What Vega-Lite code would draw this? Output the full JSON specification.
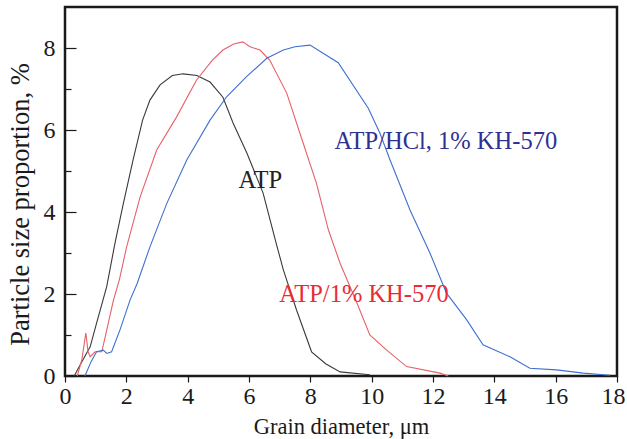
{
  "$schema": "https://vega.github.io/schema/vega-lite/v6.json",
  "autosize": "none",
  "width": 552,
  "height": 369,
  "padding": {"left": 65, "top": 7, "right": 10, "bottom": 63},
  "background": "white",
  "config": {
    "view": {"stroke": "#1a1a1a", "strokeWidth": 2.5},
    "font": "Liberation Serif"
  },
  "datasets": {
    "curves": [
      {"series": "ATP", "x": 0.3, "y": 0},
      {"series": "ATP", "x": 0.55, "y": 0.35},
      {"series": "ATP", "x": 0.82, "y": 0.71},
      {"series": "ATP", "x": 1.03, "y": 1.29},
      {"series": "ATP", "x": 1.36, "y": 2.18},
      {"series": "ATP", "x": 1.63, "y": 3.24},
      {"series": "ATP", "x": 1.9, "y": 4.2},
      {"series": "ATP", "x": 2.22, "y": 5.27},
      {"series": "ATP", "x": 2.53, "y": 6.24},
      {"series": "ATP", "x": 2.77, "y": 6.73},
      {"series": "ATP", "x": 3.1, "y": 7.1},
      {"series": "ATP", "x": 3.5, "y": 7.33},
      {"series": "ATP", "x": 3.85, "y": 7.37},
      {"series": "ATP", "x": 4.3, "y": 7.33},
      {"series": "ATP", "x": 4.73, "y": 7.17},
      {"series": "ATP", "x": 5.15, "y": 6.8},
      {"series": "ATP", "x": 5.48, "y": 6.17},
      {"series": "ATP", "x": 5.93, "y": 5.44},
      {"series": "ATP", "x": 6.46, "y": 4.46},
      {"series": "ATP", "x": 6.9, "y": 3.2},
      {"series": "ATP", "x": 7.12, "y": 2.59},
      {"series": "ATP", "x": 7.55, "y": 1.61},
      {"series": "ATP", "x": 8.04, "y": 0.59},
      {"series": "ATP", "x": 8.5, "y": 0.3},
      {"series": "ATP", "x": 8.97, "y": 0.1},
      {"series": "ATP", "x": 9.94, "y": 0.03},
      {"series": "KH", "x": 0.4, "y": 0},
      {"series": "KH", "x": 0.55, "y": 0.4},
      {"series": "KH", "x": 0.68, "y": 1.05},
      {"series": "KH", "x": 0.75, "y": 0.6},
      {"series": "KH", "x": 0.82, "y": 0.47},
      {"series": "KH", "x": 0.98, "y": 0.59},
      {"series": "KH", "x": 1.2, "y": 0.59},
      {"series": "KH", "x": 1.36, "y": 1.12},
      {"series": "KH", "x": 1.58, "y": 1.85},
      {"series": "KH", "x": 1.77, "y": 2.34},
      {"series": "KH", "x": 2.01, "y": 3.15},
      {"series": "KH", "x": 2.45, "y": 4.37},
      {"series": "KH", "x": 2.99, "y": 5.51},
      {"series": "KH", "x": 3.64, "y": 6.32},
      {"series": "KH", "x": 4.29, "y": 7.22},
      {"series": "KH", "x": 4.8, "y": 7.7},
      {"series": "KH", "x": 5.15, "y": 7.95},
      {"series": "KH", "x": 5.5, "y": 8.1},
      {"series": "KH", "x": 5.8, "y": 8.15},
      {"series": "KH", "x": 6.03, "y": 8.03},
      {"series": "KH", "x": 6.36, "y": 7.95},
      {"series": "KH", "x": 6.68, "y": 7.7},
      {"series": "KH", "x": 7.23, "y": 6.9},
      {"series": "KH", "x": 7.66, "y": 5.92},
      {"series": "KH", "x": 8.2, "y": 4.7},
      {"series": "KH", "x": 8.59, "y": 3.56},
      {"series": "KH", "x": 8.97, "y": 2.75},
      {"series": "KH", "x": 9.51, "y": 1.8},
      {"series": "KH", "x": 9.94, "y": 1.0},
      {"series": "KH", "x": 10.49, "y": 0.63},
      {"series": "KH", "x": 11.14, "y": 0.23},
      {"series": "KH", "x": 12.23, "y": 0.07},
      {"series": "KH", "x": 12.5, "y": 0},
      {"series": "HCl", "x": 0.65, "y": 0},
      {"series": "HCl", "x": 0.85, "y": 0.35},
      {"series": "HCl", "x": 1.03, "y": 0.59},
      {"series": "HCl", "x": 1.25, "y": 0.63},
      {"series": "HCl", "x": 1.36, "y": 0.55},
      {"series": "HCl", "x": 1.52, "y": 0.59},
      {"series": "HCl", "x": 1.79, "y": 1.12},
      {"series": "HCl", "x": 2.12, "y": 1.85},
      {"series": "HCl", "x": 2.35, "y": 2.25},
      {"series": "HCl", "x": 2.77, "y": 3.15},
      {"series": "HCl", "x": 3.32, "y": 4.21},
      {"series": "HCl", "x": 3.97, "y": 5.27},
      {"series": "HCl", "x": 4.73, "y": 6.24},
      {"series": "HCl", "x": 5.27, "y": 6.81},
      {"series": "HCl", "x": 5.92, "y": 7.3},
      {"series": "HCl", "x": 6.58, "y": 7.75},
      {"series": "HCl", "x": 7.12, "y": 7.95},
      {"series": "HCl", "x": 7.5, "y": 8.03},
      {"series": "HCl", "x": 7.99, "y": 8.07},
      {"series": "HCl", "x": 8.91, "y": 7.64},
      {"series": "HCl", "x": 9.89, "y": 6.53},
      {"series": "HCl", "x": 10.27, "y": 5.92},
      {"series": "HCl", "x": 10.6, "y": 5.27},
      {"series": "HCl", "x": 11.25, "y": 4.05},
      {"series": "HCl", "x": 11.9, "y": 3.0},
      {"series": "HCl", "x": 12.44, "y": 2.02},
      {"series": "HCl", "x": 13.1, "y": 1.37},
      {"series": "HCl", "x": 13.63, "y": 0.76},
      {"series": "HCl", "x": 14.51, "y": 0.47},
      {"series": "HCl", "x": 15.16, "y": 0.19},
      {"series": "HCl", "x": 16.03, "y": 0.15},
      {"series": "HCl", "x": 16.9, "y": 0.07},
      {"series": "HCl", "x": 17.77, "y": 0.02}
    ],
    "labels": [
      {"series": "ATP", "text": "ATP", "x": 6.37, "y": 4.59},
      {"series": "HCl", "text": "ATP/HCl, 1% KH-570", "x": 12.42, "y": 5.53},
      {"series": "KH", "text": "ATP/1% KH-570", "x": 9.75, "y": 1.81}
    ]
  },
  "layer": [
    {
      "data": {"name": "curves"},
      "mark": {"type": "line", "strokeWidth": 1.1, "interpolate": "linear"},
      "encoding": {
        "x": {
          "field": "x", "type": "quantitative",
          "scale": {"domain": [0, 18], "nice": false, "zero": false},
          "axis": {
            "title": "Grain diameter, μm",
            "values": [0, 2, 4, 6, 8, 10, 12, 14, 16, 18],
            "grid": false, "domain": false,
            "tickSize": 6, "tickColor": "#1a1a1a", "tickWidth": 1.2,
            "labelFont": "Liberation Serif", "labelFontSize": 24, "labelColor": "#1a1a1a",
            "labelPadding": 2, "labelFlush": false,
            "labelOffset": {"expr": "datum.value == 18 ? -4 : 0"},
            "titleFont": "Liberation Serif", "titleFontSize": 22.5, "titleFontWeight": "normal",
            "titleColor": "#1a1a1a", "titleBaseline": "alphabetic", "titleY": 57
          }
        },
        "y": {
          "field": "y", "type": "quantitative",
          "scale": {"domain": [0, 9], "nice": false},
          "axis": {
            "title": "Particle size proportion, %",
            "values": [0, 1, 2, 3, 4, 5, 6, 7, 8],
            "labelExpr": "datum.value % 2 == 0 ? datum.label : ''",
            "grid": false, "domain": false,
            "tickSize": {"expr": "datum.value % 2 == 0 ? -11 : -6"},
            "tickColor": "#1a1a1a", "tickWidth": 1.2,
            "labelFont": "Liberation Serif", "labelFontSize": 24, "labelColor": "#1a1a1a",
            "labelPadding": 21,
            "titleFont": "Liberation Serif", "titleFontSize": 26.5, "titleFontWeight": "normal",
            "titleColor": "#1a1a1a", "titleBaseline": "middle", "titleX": -45, "titleY": 197
          }
        },
        "color": {
          "field": "series", "type": "nominal",
          "scale": {"domain": ["ATP", "KH", "HCl"], "range": ["#3a3a3a", "#e8606a", "#3f6fd0"]},
          "legend": null
        },
        "detail": {"field": "series"}
      }
    },
    {
      "data": {"name": "labels"},
      "mark": {"type": "text", "font": "Liberation Serif", "fontSize": 24.5, "align": "center", "baseline": "alphabetic"},
      "encoding": {
        "x": {"field": "x", "type": "quantitative"},
        "y": {"field": "y", "type": "quantitative"},
        "text": {"field": "text"},
        "color": {
          "field": "series", "type": "nominal",
          "scale": {"domain": ["ATP", "KH", "HCl"], "range": ["#222222", "#ea2b33", "#2e3192"]},
          "legend": null
        }
      }
    }
  ],
  "resolve": {"scale": {"color": "independent"}}
}
